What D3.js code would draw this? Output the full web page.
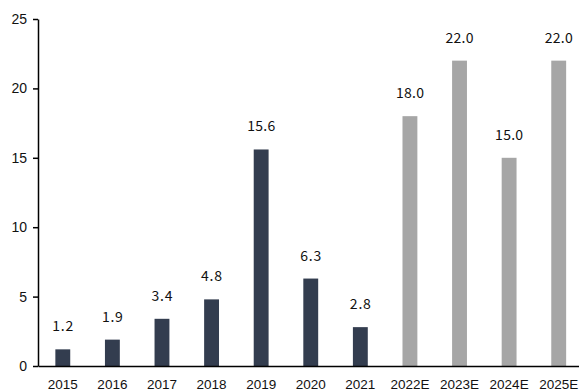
<!DOCTYPE html>
<html>
<head>
<meta charset="utf-8">
<script src="https://cdn.jsdelivr.net/npm/d3@7/dist/d3.min.js"></script>
<style>
  html, body { margin: 0; padding: 0; background: #fff; }
  svg { display: block; }
</style>
</head>
<body>
<svg id="chart" width="579" height="392"></svg>
<script>
const categories = ["2015","2016","2017","2018","2019","2020","2021","2022E","2023E","2024E","2025E"];
const values = [1.2, 1.9, 3.4, 4.8, 15.6, 6.3, 2.8, 18.0, 22.0, 15.0, 22.0];
const isForecast = [false,false,false,false,false,false,false,true,true,true,true];
const valueLabels = ["1.2","1.9","3.4","4.8","15.6","6.3","2.8","18.0","22.0","15.0","22.0"];
const yTicks = [0, 5, 10, 15, 20, 25];

const actualColor = "#333d4f";
const forecastColor = "#a6a6a6";

const svg = d3.select("#chart");

const x = d3.scaleBand()
  .domain(categories)
  .range([38, 583.5])
  .paddingInner(0.7)
  .paddingOuter(0.35);

const y = d3.scaleLinear()
  .domain([0, 25])
  .range([366, 19]);

// bars
svg.append("g").selectAll("rect")
  .data(categories)
  .join("rect")
  .attr("x", d => x(d))
  .attr("width", x.bandwidth())
  .attr("y", (d, i) => y(values[i]))
  .attr("height", (d, i) => y(0) - y(values[i]))
  .attr("fill", (d, i) => isForecast[i] ? forecastColor : actualColor);

// value labels
svg.append("g").selectAll("text")
  .data(categories)
  .join("text")
  .attr("x", d => x(d) + x.bandwidth() / 2)
  .attr("y", (d, i) => y(values[i]) - 18)
  .attr("text-anchor", "middle")
  .attr("font-family", "'Noto Sans CJK SC', 'Noto Sans CJK JP', 'Noto Sans', sans-serif")
  .attr("font-size", 14)
  .attr("fill", "#111")
  .attr("textLength", (d, i) => valueLabels[i].length * 7)
  .attr("lengthAdjust", "spacing")
  .text((d, i) => valueLabels[i]);

// y axis
const yAxis = d3.axisLeft(y)
  .tickValues(yTicks)
  .tickSize(5)
  .tickSizeOuter(0)
  .tickPadding(6)
  .tickFormat(d3.format("d"));

const gy = svg.append("g")
  .attr("transform", "translate(38,0)")
  .call(yAxis);
gy.select(".domain").attr("stroke", "#000").attr("stroke-width", 1.5);
gy.selectAll(".tick line").attr("stroke", "#000").attr("stroke-width", 1.5);
gy.selectAll(".tick text")
  .attr("font-family", "'Liberation Sans', Arial, sans-serif")
  .attr("font-size", 14)
  .attr("fill", "#111");

// x axis
const xAxis = d3.axisBottom(x)
  .tickSize(0)
  .tickSizeOuter(0);

const gx = svg.append("g")
  .attr("transform", "translate(0,366)")
  .call(xAxis);
gx.select(".domain").attr("stroke", "#000").attr("stroke-width", 1.5);
gx.selectAll(".tick text")
  .attr("y", 23)
  .attr("dy", 0)
  .attr("font-family", "'Liberation Sans', Arial, sans-serif")
  .attr("font-size", 13.5)
  .attr("fill", "#111");
</script>
</body>
</html>
